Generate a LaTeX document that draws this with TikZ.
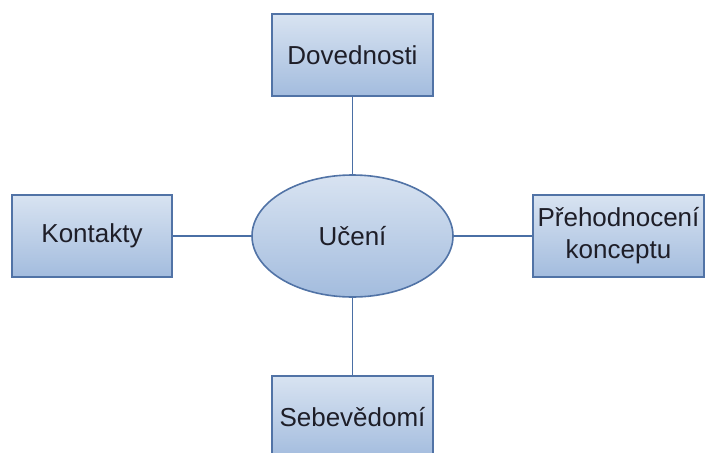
\documentclass[tikz,border=0pt]{standalone}
\usepackage{fontspec}
\setmainfont{Liberation Sans}
\usetikzlibrary{shapes.geometric}
\definecolor{fillTop}{HTML}{D8E3F1}
\definecolor{fillBot}{HTML}{A3BCDE}
\definecolor{edgeBlue}{HTML}{5173A6}
\definecolor{linkBlue}{HTML}{4A6FA5}
\definecolor{labelInk}{HTML}{1E1E28}
\tikzset{
  x=1pt, y=-1pt,
  topic/.style={draw=edgeBlue, line width=1.6pt, top color=fillTop, bottom color=fillBot,
    text=labelInk, font=\fontsize{26}{32}\selectfont, align=center, inner sep=0pt},
  topicbox/.style={topic, rectangle, minimum height=82pt},
  hub/.style={topic, ellipse, minimum width=201pt, minimum height=122pt},
  link/.style={draw=linkBlue, line width=1.6pt}
}
\begin{document}
\begin{tikzpicture}
\useasboundingbox (0,0) rectangle (714,452);
\node[hub] (ucen) at (352.5,236) {Učení};
\node[topicbox, minimum width=161pt] (dov) at (352.5,55) {Dovednosti};
\node[topicbox, minimum width=160pt] (kon) at (92,236) {Kontakty};
\node[topicbox, minimum width=171pt] (pre) at (618.5,236) {Přehodnocení\\konceptu};
\node[topicbox, minimum width=161pt] (seb) at (352.5,417) {Sebevědomí};
\draw[link] (dov.south) -- (ucen.north);
\draw[link] (seb.north) -- (ucen.south);
\draw[link] (kon.east) -- (ucen.west);
\draw[link] (pre.west) -- (ucen.east);
\end{tikzpicture}
\end{document}
